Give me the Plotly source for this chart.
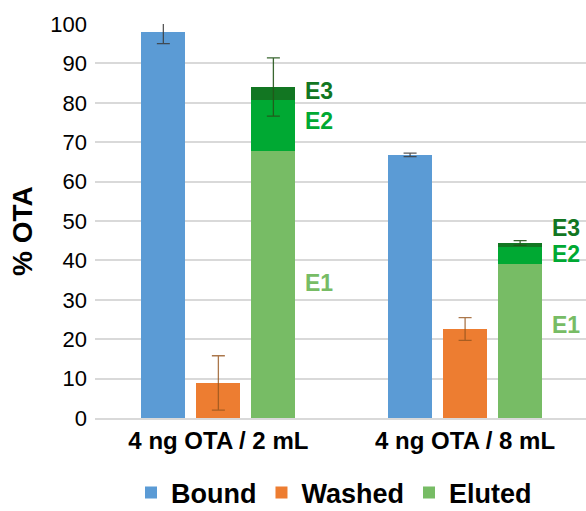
import plotly.graph_objects as go

# Data
categories = ["4 ng OTA / 2 mL", "4 ng OTA / 8 mL"]
bound = [98.0, 66.8]
bound_err = [3.0, 0.45]
washed = [8.9, 22.6]
washed_err = [6.9, 2.9]
eluted_e1 = [67.8, 39.1]
eluted_e2 = [12.9, 4.3]
eluted_e3 = [3.3, 1.0]
eluted_err = [7.4, 0.6]
y_ticks = [0, 10, 20, 30, 40, 50, 60, 70, 80, 90, 100]

# Colours
C_BOUND = "#5B9BD5"
C_WASHED = "#ED7D31"
C_E1 = "#77BC65"
C_E2 = "#00A933"
C_E3 = "#127622"

FONT = "Liberation Sans, Arial, sans-serif"

W, H = 586, 511
M_L, M_R, M_T, M_B = 95, 0, 24, 93
PLOT_W = W - M_L - M_R
PLOT_H = H - M_T - M_B

group_x = list(range(len(categories)))
offset = 0.223
bar_w = 0.178
x_bound = [g - offset for g in group_x]
x_washed = list(group_x)
x_eluted = [g + offset for g in group_x]
eluted_total = [a + b + c for a, b, c in zip(eluted_e1, eluted_e2, eluted_e3)]

fig = go.Figure()

fig.add_trace(go.Bar(x=x_bound, y=bound, width=bar_w, name="Bound",
                     marker=dict(color=C_BOUND, line=dict(width=0))))
fig.add_trace(go.Bar(x=x_washed, y=washed, width=bar_w, name="Washed",
                     marker=dict(color=C_WASHED, line=dict(width=0))))
fig.add_trace(go.Bar(x=x_eluted, y=eluted_e1, width=bar_w, name="Eluted",
                     marker=dict(color=C_E1, line=dict(width=0))))
fig.add_trace(go.Bar(x=x_eluted, y=eluted_e2, width=bar_w, showlegend=False,
                     marker=dict(color=C_E2, line=dict(width=0))))
fig.add_trace(go.Bar(x=x_eluted, y=eluted_e3, width=bar_w, showlegend=False,
                     marker=dict(color=C_E3, line=dict(width=0))))


def err_trace(xs, ys, errs, color):
    return go.Scatter(
        x=xs, y=ys, mode="markers", showlegend=False, cliponaxis=False,
        marker=dict(size=1, color="rgba(0,0,0,0)"),
        error_y=dict(type="data", array=errs, visible=True,
                     color=color, thickness=1.3, width=6.5),
        hoverinfo="skip",
    )


fig.add_trace(err_trace(x_bound, bound, bound_err, "rgba(60,60,60,0.85)"))
fig.add_trace(err_trace(x_washed, washed, washed_err, "rgba(150,85,30,0.8)"))
fig.add_trace(err_trace(x_eluted, eluted_total, eluted_err, "rgba(35,85,25,0.9)"))

# Stack labels beside the eluted bars
label_x = [g + 0.408 for g in group_x]
label_specs = [
    ("E3", C_E3, [83.0, 48.2]),
    ("E2", C_E2, [75.4, 41.6]),
    ("E1", C_E1, [34.3, 23.6]),
]
for text, color, ys in label_specs:
    for lx, ly in zip(label_x, ys):
        fig.add_annotation(x=lx, y=ly, xref="x", yref="y", text=text,
                           showarrow=False, xanchor="center", yanchor="middle",
                           font=dict(family=FONT, size=23, color=color,
                                     weight="bold"))

# Vertical axis title
fig.add_annotation(x=(22 - M_L) / PLOT_W, y=(H - M_B - 231) / PLOT_H,
                   xref="paper", yref="paper", text="% OTA",
                   showarrow=False, textangle=-90,
                   xanchor="center", yanchor="middle",
                   font=dict(family=FONT, size=28, color="#000000", weight="bold"))

fig.update_layout(
    width=W, height=H,
    margin=dict(l=M_L, r=M_R, t=M_T, b=M_B, autoexpand=False),
    paper_bgcolor="white", plot_bgcolor="white",
    barmode="stack", bargap=0,
    font=dict(family=FONT, color="#000000"),
    legend=dict(orientation="h", xref="container", yref="container",
                x=334 / W, xanchor="center",
                y=1 - 493 / H, yanchor="middle",
                font=dict(family=FONT, size=27, color="#000000", weight="bold"),
                itemwidth=30, traceorder="normal", tracegroupgap=0),
    xaxis=dict(range=[-0.5, 1.49], tickmode="array", tickvals=group_x,
               ticktext=categories, showgrid=False, zeroline=False,
               showline=True, linecolor="#D9D9D9", linewidth=1.5,
               ticks="", ticklabelstandoff=0,
               tickfont=dict(family=FONT, size=24, color="#000000", weight="bold")),
    yaxis=dict(range=[0, 100], tickmode="array", tickvals=y_ticks,
               showgrid=True, gridcolor="#D9D9D9", gridwidth=1.5,
               zeroline=False, showline=False, ticks="",
               ticklabelstandoff=7,
               tickfont=dict(family=FONT, size=22, color="#000000")),
)

fig.write_html("out.html")
